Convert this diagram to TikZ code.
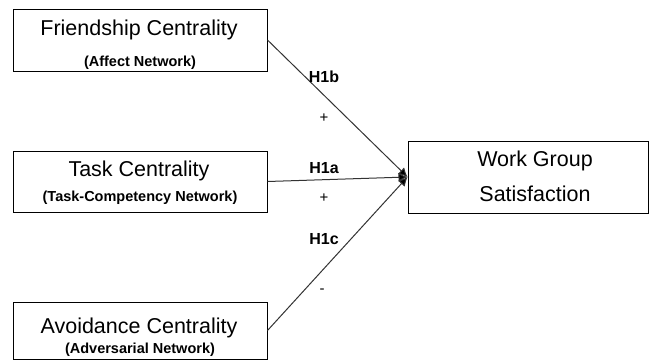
\documentclass[tikz,border=0pt]{standalone}
\usepackage{fontspec}
\setmainfont{Liberation Sans}
\usetikzlibrary{arrows.meta}
\begin{document}
\begin{tikzpicture}[x=1pt,y=-1pt,
  box/.style={draw=black,line width=1pt,inner sep=0pt,fill=white},
  title/.style={anchor=base,inner sep=0pt,font=\fontsize{21.5}{23}\selectfont},
  sub/.style={anchor=base,inner sep=0pt,font=\fontsize{14.5}{16}\selectfont\bfseries},
  hyp/.style={anchor=base,inner sep=0pt,font=\fontsize{16}{18}\selectfont\bfseries},
  sign/.style={anchor=center,inner sep=0pt,font=\fontsize{15}{17}\selectfont},
  link/.style={draw=black!80,line width=1pt,-{Latex[length=9pt,width=9pt,fill=black]}}]
\useasboundingbox[fill=white] (0,0) rectangle (649,360);
\node[box,minimum width=254pt,minimum height=62pt] (b1) at (140,40) {};
\node[box,minimum width=254pt,minimum height=61pt] (b2) at (140,181.5) {};
\node[box,minimum width=254pt,minimum height=57pt] (b3) at (140,330.5) {};
\node[box,minimum width=240pt,minimum height=72pt] (b4) at (528,177) {};
\coordinate (tip) at (b4.west);
\node[title] (t1) at (139,35) {Friendship Centrality};
\node[sub] (s1) at (140,66) {(Affect Network)};
\node[title] (t2) at (139,176) {Task Centrality};
\node[sub] (s2) at (140,201) {(Task-Competency Network)};
\node[title] (t3) at (139,333) {Avoidance Centrality};
\node[sub] (s3) at (140,353) {(Adversarial Network)};
\node[title] (t4) at (535,166) {Work Group};
\node[title] (t5) at (535,201) {Satisfaction};
\draw[link] (b1.east) -- (tip);
\draw[link] (b2.east) -- (tip);
\draw[link] (b3.east) -- (tip);
\node[hyp] (h1b) at (324,82) {H1b};
\node[sign] (p1) at (324,118) {+};
\node[hyp] (h1a) at (324,173) {H1a};
\node[sign] (p2) at (324,198) {+};
\node[hyp] (h1c) at (324,244) {H1c};
\node[sign] (m1) at (322,291) {-};
\end{tikzpicture}
\end{document}
